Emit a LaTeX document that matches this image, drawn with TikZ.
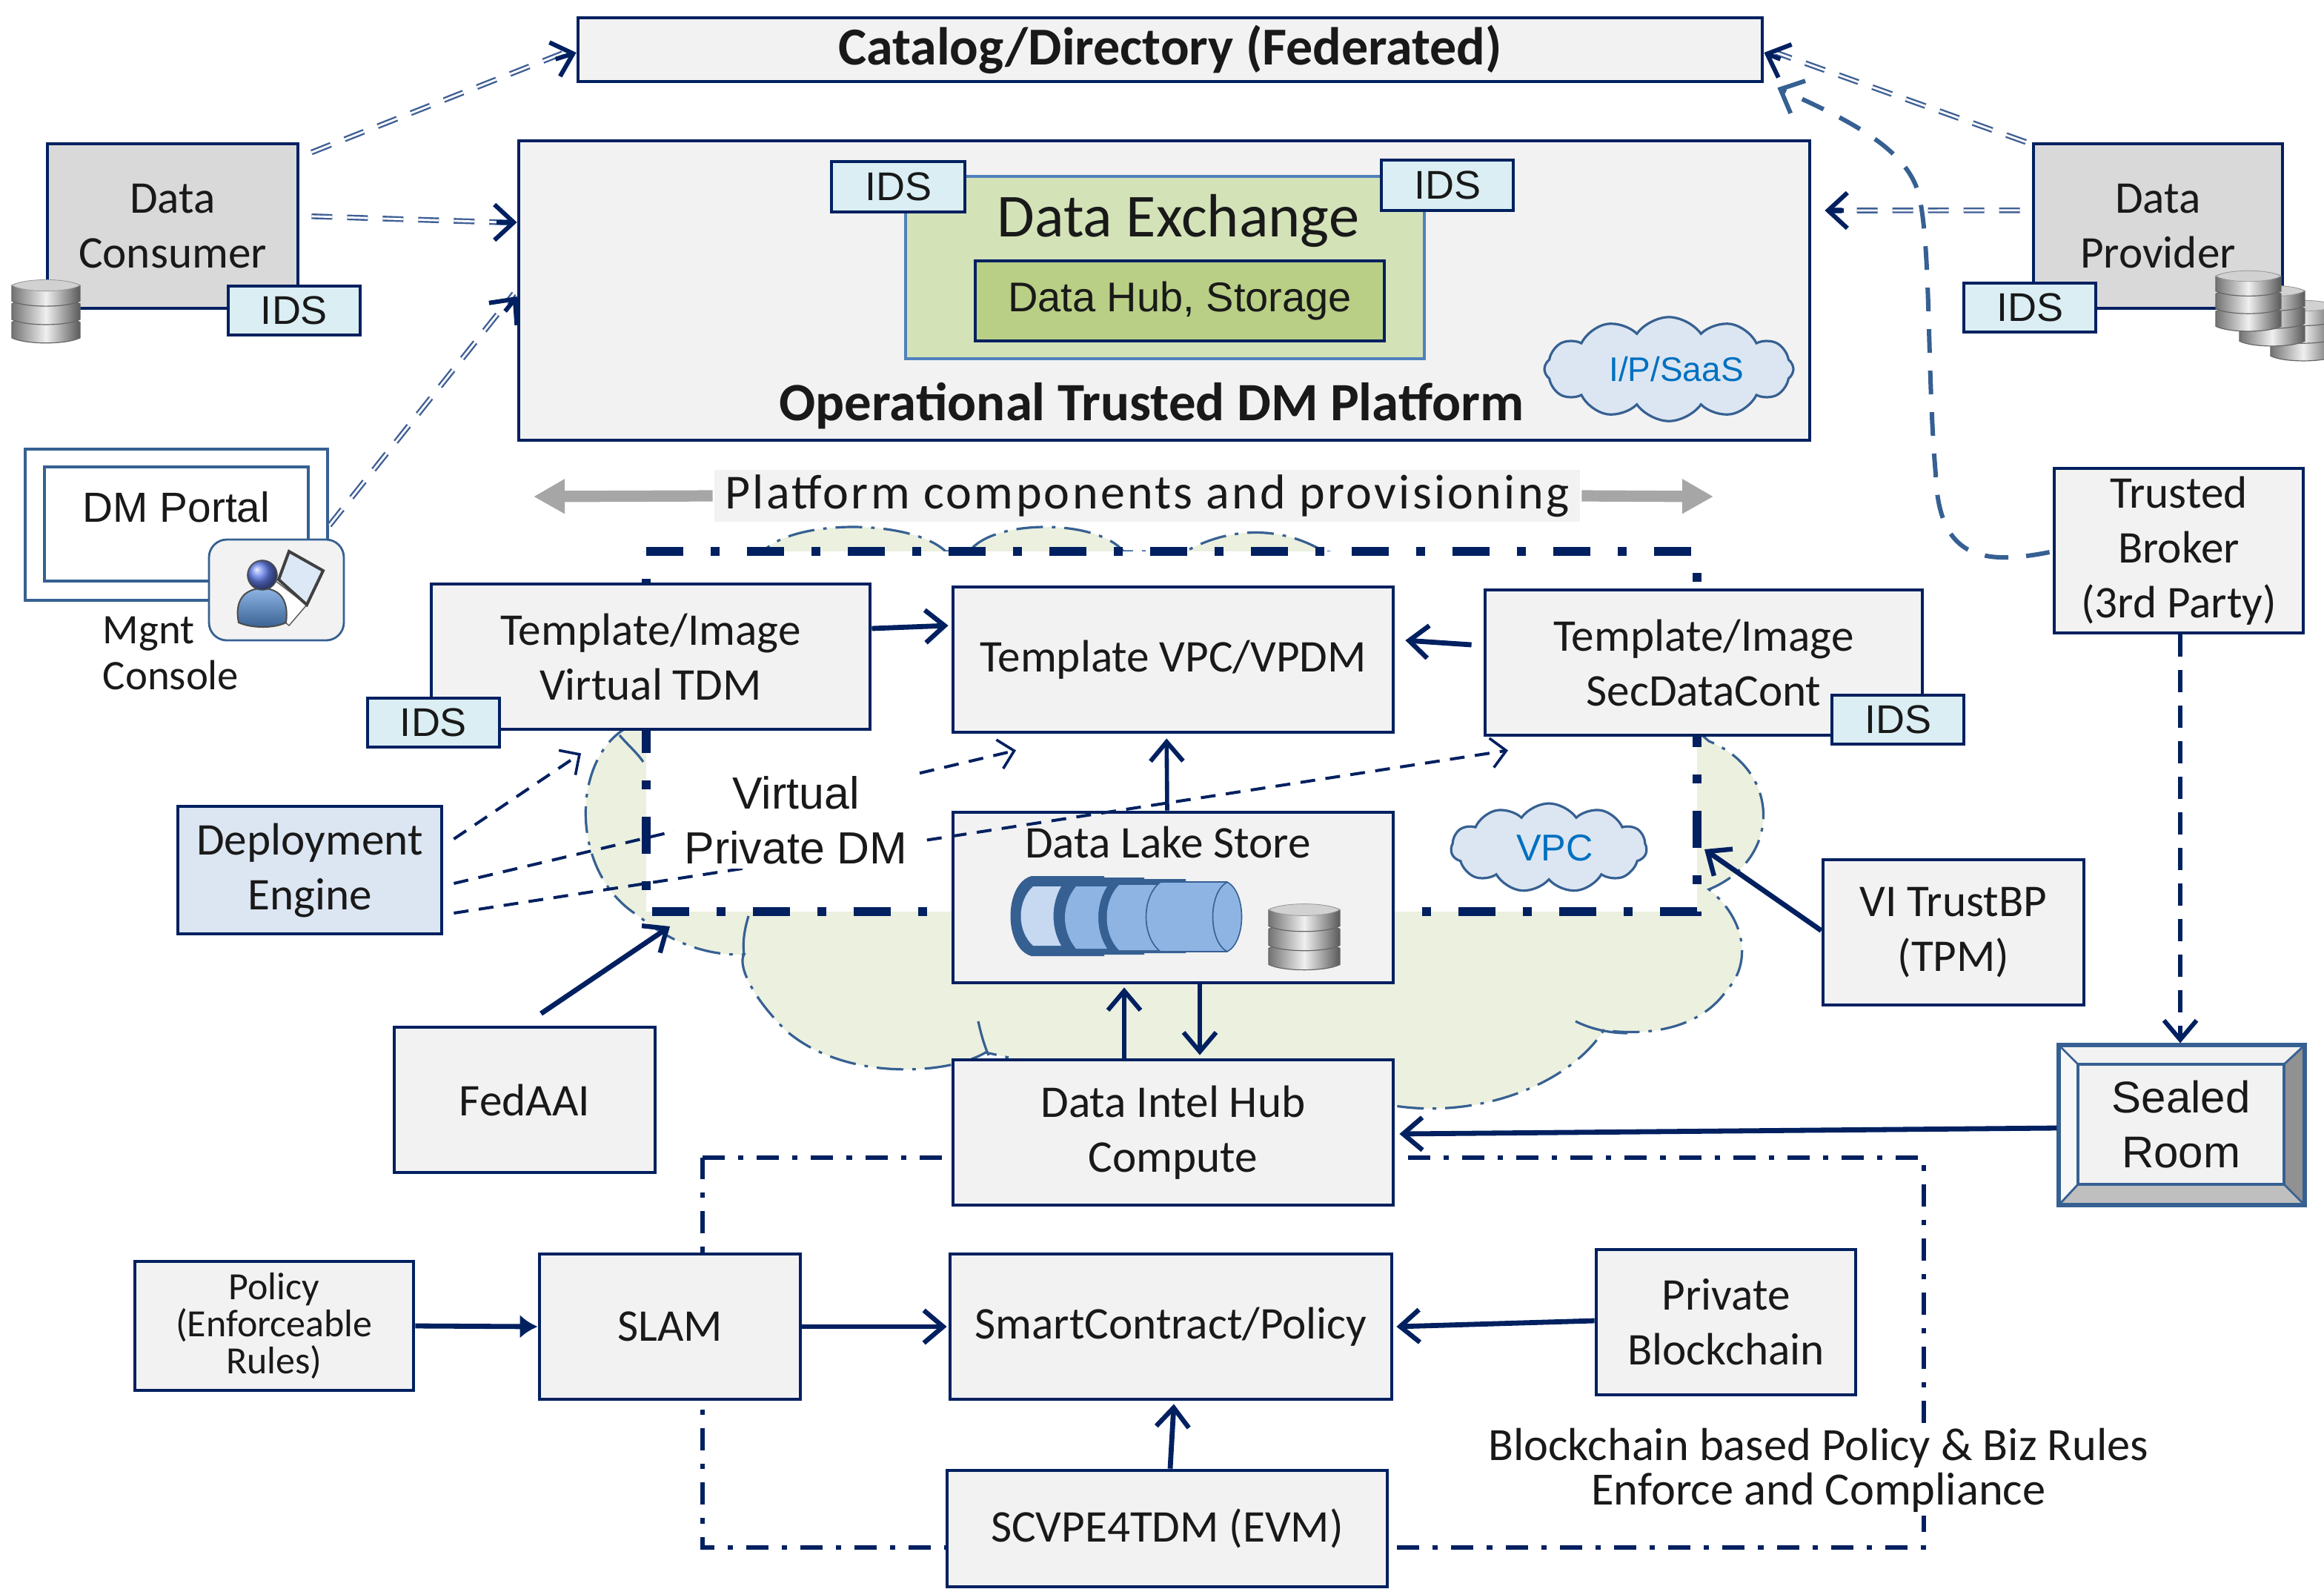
\documentclass[tikz,border=0pt]{standalone}
\usepackage{fontspec}
\setmainfont{Carlito}
\newfontfamily\arf{Liberation Sans}
\usetikzlibrary{arrows.meta,shapes.symbols,shapes.geometric}
\definecolor{navy}{HTML}{002060}
\definecolor{steel}{HTML}{366092}
\definecolor{dbl}{HTML}{3F5F95}
\definecolor{boxg}{HTML}{F2F2F2}
\definecolor{provg}{HTML}{D9D9D9}
\definecolor{idsf}{HTML}{DAEEF3}
\definecolor{cloudg}{HTML}{EBF0DF}
\definecolor{cloudb}{HTML}{DCE6F2}
\definecolor{txtb}{HTML}{0070C0}
\definecolor{exg}{HTML}{D4E2B8}
\definecolor{exb}{HTML}{4F81BD}
\definecolor{hubg}{HTML}{B9CF85}
\definecolor{barg}{HTML}{A6A6A6}
\definecolor{cylm}{HTML}{8EB4E3}
\definecolor{cyll}{HTML}{C6D9F1}
\tikzset{
  bx/.style={draw=navy,line width=1.2pt,fill=boxg,inner sep=0pt,align=center,text=black!90,
     font=\fontsize{15.3}{18.5}\selectfont},
  idsbox/.style={bx,fill=idsf,font=\arf\fontsize{13.5}{16}\selectfont},
  solidarr/.style={draw=navy,line width=1.7pt,-{Straight Barb[length=6.5pt,width=11pt,line width=1.6pt]}},
  thinarr/.style={draw=navy,line width=1.4pt,-{Straight Barb[length=6.5pt,width=11pt,line width=1.5pt]}},
  dblarr/.style={draw=dbl,line width=.6pt,double=white,double distance=.7pt,dash pattern=on 7pt off 5pt},
  dblhead/.style={draw=navy,line width=1.5pt,-{Straight Barb[length=6.5pt,width=12pt,line width=1.5pt]}},
  thindash/.style={draw=navy,line width=1pt,dash pattern=on 5pt off 3.5pt,-{Straight Barb[length=5pt,width=10pt,line width=.9pt]}},
  cloudn/.style={cloud,draw=steel,line width=.8pt,fill=cloudb,inner sep=0pt,text=txtb},
  graybar/.style={draw=barg,line width=3.8pt,-{Triangle[length=10.5pt,width=11pt]}},
  plaintxt/.style={inner sep=0pt,align=center,text=black!90,font=\fontsize{15.3}{18.5}\selectfont},
}
\newcommand{\bxn}[7][]{%
  \pgfmathsetmacro\cxx{(#3+#5)/2}\pgfmathsetmacro\cyy{(#4+#6)/2}%
  \pgfmathsetmacro\wdd{(#5-#3)*.5}\pgfmathsetmacro\htt{(#6-#4)*.5}%
  \node[bx,#1,minimum width=\wdd pt,minimum height=\htt pt] (#2) at (\cxx,\cyy) {#7};}
\newcommand{\dbicon}[3]{%
  \begin{scope}[shift={(#1,#2)},xscale=#3,yscale=#3]
    \foreach \yt in {.16,-.11,-.38}{
      \path[left color=black!55,right color=black!65,middle color=black!6,draw=black!60,line width=.3pt]
        (-.5,\yt) -- (-.5,\yt+.23) .. controls (-.3,\yt+.33) and (.3,\yt+.33) .. (.5,\yt+.23)
        -- (.5,\yt) .. controls (.3,\yt-.1) and (-.3,\yt-.1) .. (-.5,\yt) -- cycle;
    }
    \path[fill=black!18,draw=black!40,line width=.2pt] (-.5,-.38) .. controls (-.3,-.49) and (.3,-.49) .. (.5,-.38)
      .. controls (.3,-.27) and (-.3,-.27) .. (-.5,-.38) -- cycle;
  \end{scope}}
\begin{document}
\begin{tikzpicture}[x=.5pt,y=-.5pt]
\useasboundingbox (0,0) rectangle (1568,1071.5);
% big cloud behind the virtual box
\draw[fill=cloudg,draw=steel,line width=.8pt,dash pattern=on 9pt off 3pt on 1.2pt off 3pt]
  (480,400) -- (515,372) .. controls (535,350) and (615,350) .. (638,372) -- (654,372)
  .. controls (670,350) and (740,350) .. (758,372) -- (800,372)
  .. controls (830,355) and (865,355) .. (893,372) -- (1130,400) -- (1130,480) -- (1153,500)
  .. controls (1202,520) and (1202,580) .. (1153,600)
  .. controls (1178,620) and (1182,650) .. (1165,668)
  .. controls (1150,690) and (1120,700) .. (1082,695)
  .. controls (1060,730) and (1000,755) .. (941,746) -- (800,740) -- (665,710)
  .. controls (640,725) and (570,730) .. (530,695)
  .. controls (505,670) and (498,650) .. (502,644)
  .. controls (470,645) and (445,630) .. (431,618)
  .. controls (385,590) and (385,515) .. (421,492) -- (440,490) -- cycle;
\draw[draw=steel,line width=.8pt] (660,689) .. controls (662,698) and (664,705) .. (667,712);
\draw[draw=steel,line width=.8pt] (1063,689) .. controls (1075,695) and (1088,697) .. (1098,697);
\draw[draw=steel,line width=.8pt] (505,618) .. controls (502,628) and (501,636) .. (502,644);
\draw[draw=steel,line width=.8pt] (418,496) .. controls (424,503) and (430,508) .. (434,514);
% virtual private box
\path[fill=white] (436,372) rectangle (1145,615);
\draw[draw=navy,line width=3pt,dash pattern=on 12.5pt off 9.3pt on 2.9pt off 9.3pt]
  (436,372) -- (1145,372) -- (1145,615) -- (436,615) -- cycle;
% compliance frame
\draw[draw=navy,line width=1.4pt,dash pattern=on 7.5pt off 4.5pt on 1.8pt off 4.5pt]
  (474,781) -- (1298,781) -- (1298,1044) -- (474,1044) -- cycle;

% top row
\bxn[font=\bfseries\fontsize{18}{21}\selectfont]{catalog}{390}{12}{1189}{55}{Catalog/Directory (Federated)}
\bxn{platform}{350}{95}{1221}{297}{}
\bxn[draw=exb,fill=exg]{exchange}{611}{119}{961}{242}{}
\node[plaintxt,font=\fontsize{20.6}{24}\selectfont] (exchangeT) at (795,149) {Data Exchange};
\bxn[fill=hubg,font=\arf\fontsize{14}{17}\selectfont]{hub}{658}{176}{934}{230}{Data Hub, Storage}
\bxn[idsbox]{idsa}{561}{109}{651}{143}{IDS}
\bxn[idsbox]{idsb}{932}{108}{1021}{142}{IDS}
\node[plaintxt,font=\bfseries\fontsize{18.2}{21}\selectfont] (platformT) at (777,274) {Operational Trusted DM Platform};
\node[cloudn,cloud puffs=12,cloud puff arc=110,aspect=2.7,minimum width=84pt,minimum height=31pt,font=\arf\fontsize{11.5}{14}\selectfont] (iaas) at (1126,249) {\hspace{5pt}I/P/SaaS};

\bxn[fill=provg]{consumer}{32}{97}{201}{208}{Data\\Consumer}
\bxn[idsbox]{idsc}{154}{193}{243}{226}{IDS}
\dbicon{31}{210}{46}
\bxn[fill=provg]{provider}{1372}{97}{1540}{208}{Data\\Provider}
\bxn[idsbox]{idsd}{1325}{191}{1414}{224}{IDS}
\begin{scope}
\clip (1480,170) rectangle (1568,250);
\dbicon{1554}{223}{44}
\dbicon{1533}{213}{44}
\dbicon{1517}{203}{44}
\end{scope}

\bxn{broker}{1386}{316}{1554}{427}{Trusted\\Broker\\(3rd Party)}

% portal
\bxn[draw=steel,fill=white]{portal}{17}{303}{221}{405}{}
\bxn[draw=steel,fill=white]{portalin}{30}{315}{208}{392}{}
\node[plaintxt,font=\arf\fontsize{14.2}{17}\selectfont] (portalT) at (119,342) {DM Portal};
\bxn[draw=steel,line width=.7pt,rounded corners=6pt]{mgmt}{141}{364}{232}{432}{}
\path[fill=white,draw=black!60,line width=.4pt] (186,392) -- (207,408) -- (195,422) -- (175,405) -- cycle;
\path[fill=cyll!60!white,draw=black!75,line width=1pt] (195,372) -- (218,385) -- (207,408) -- (188,391) -- cycle;
\path[top color=cylm,bottom color=steel,draw=black!70,line width=.5pt]
  (161,420) .. controls (158,405) and (165,397) .. (177,397) .. controls (189,397) and (195,405) .. (193,420)
  .. controls (185,424) and (170,424) .. (161,420) -- cycle;
\path[ball color=cylm!70!blue,draw=black!70,line width=.4pt] (177,388) circle[radius=10];
\node[plaintxt,anchor=north west,align=left,font=\fontsize{14.2}{15.5}\selectfont] (mgnt) at (69,415.5) {Mgnt\\Console};

% platform bar
\bxn[draw=none,font=\addfontfeatures{LetterSpace=5}\fontsize{16.5}{19}\selectfont]{bar}{482}{317}{1066}{352}{Platform components and provisioning}
\coordinate (barl) at (360,335);
\coordinate (barr) at (1156,335);
\draw[graybar] (bar.west) -- (barl);
\draw[graybar] (bar.east) -- (barr);

% templates
\bxn{vt}{291}{394}{587}{492}{Template/Image\\Virtual TDM}
\bxn[idsbox]{idse}{248}{471}{337}{504}{IDS}
\bxn{vpc}{643}{396}{940}{494}{Template VPC/VPDM}
\bxn{sec}{1002}{398}{1297}{496}{Template/Image\\SecDataCont}
\bxn[idsbox]{idsf}{1236}{469}{1325}{502}{IDS}

\bxn[fill=cloudb]{deploy}{120}{544}{298}{630}{Deployment\\Engine}
\bxn{lake}{643}{548}{940}{663}{}
\node[plaintxt] (lakeT) at (788,568) {Data Lake Store};

% data lake cylinder icon
\path[fill=steel] (696,591) -- (745,591) -- (745,645) -- (696,645) .. controls (677,640) and (677,596) .. (696,591) -- cycle;
\path[fill=cyll] (697,598) -- (716,598) .. controls (709,610) and (709,626) .. (716,638) -- (697,638) .. controls (686,628) and (686,608) .. (697,598) -- cycle;
\path[fill=steel] (725,592) -- (772,592) -- (772,644) -- (725,644) .. controls (710,632) and (710,604) .. (725,592) -- cycle;
\path[fill=cylm] (726,598) -- (747,598) .. controls (739,610) and (739,628) .. (747,640) -- (726,640) .. controls (716,628) and (716,610) .. (726,598) -- cycle;
\path[fill=steel] (755,593) -- (800,593) -- (800,643) -- (755,643) .. controls (739,632) and (739,604) .. (755,593) -- cycle;
\path[fill=cylm] (755,597) -- (790,597) -- (790,641) -- (755,641) .. controls (744,630) and (744,608) .. (755,597) -- cycle;
\path[fill=cylm,draw=steel,line width=.4pt] (783,595) -- (828,595) .. controls (841,602) and (841,635) .. (828,642) -- (783,642) .. controls (770,632) and (770,605) .. (783,595) -- cycle;
\path[draw=steel,line width=.4pt] (828,595) .. controls (815,602) and (815,635) .. (828,642);
\dbicon{880}{632}{48}

\node[cloudn,cloud puffs=11,cloud puff arc=110,aspect=2.1,minimum width=66pt,minimum height=30pt,font=\arf\fontsize{12.6}{15}\selectfont] (vpccloud) at (1045,572) {\hspace{4pt}VPC};
\bxn{vi}{1230}{580}{1406}{678}{VI TrustBP\\(TPM)}
\bxn{fedaai}{266}{693}{442}{791}{FedAAI}
\bxn{dih}{643}{715}{940}{813}{Data Intel Hub\\Compute}

% sealed room
\bxn[draw=steel,line width=1.3pt]{sealed}{1389}{705}{1555}{813}{}
\path[fill=white!97!black] (1389,705) -- (1402,718) -- (1402,799) -- (1389,813) -- cycle;
\path[fill=black!25] (1389,813) -- (1402,799) -- (1541,799) -- (1555,813) -- cycle;
\path[fill=black!43] (1555,705) -- (1541,718) -- (1541,799) -- (1555,813) -- cycle;
\draw[draw=steel,line width=1.3pt] (1389,705) -- (1555,705) -- (1555,813) -- (1389,813) -- cycle;
\draw[draw=steel,line width=.7pt] (1389,705) -- (1402,718) (1555,705) -- (1541,718) (1389,813) -- (1402,799) (1555,813) -- (1541,799);
\bxn[draw=steel,line width=1.1pt,font=\arf\fontsize{15}{18.5}\selectfont]{sealedT}{1402}{718}{1541}{799}{Sealed\\Room}

% bottom row
\bxn[font=\fontsize{13}{12.5}\selectfont]{policy}{91}{851}{279}{938}{Policy\\(Enforceable\\Rules)}
\bxn{slam}{364}{846}{540}{944}{SLAM}
\bxn{smart}{641}{846}{939}{944}{SmartContract/Policy}
\bxn{chain}{1077}{843}{1252}{941}{Private\\Blockchain}
\bxn{scvpe}{639}{992}{936}{1070.5}{SCVPE4TDM (EVM)}
\node[plaintxt,fill=white,inner ysep=1pt,inner xsep=0pt,font=\fontsize{15.6}{15}\selectfont] (rules) at (1227,992) {Blockchain based Policy \& Biz Rules\\Enforce and Compliance};

% double dashed connectors
\draw[dblarr] ([xshift=4pt,yshift=-3.5pt]consumer.north east) -- ([xshift=-2pt,yshift=-.2pt]catalog.west);
\draw[dblhead] ([xshift=-7pt,yshift=-3.2pt]catalog.west) -- ([yshift=-1pt]catalog.west);
\draw[dblarr] ([xshift=4pt,yshift=3.3pt]consumer.east) -- ([xshift=-2pt,yshift=22.9pt]platform.west);
\draw[dblhead] ([xshift=-7pt,yshift=23pt]platform.west) -- ([yshift=23pt]platform.west);
\draw[dblarr] ([yshift=0pt]portal.east) ++(0,.5) -- ([xshift=-1pt,yshift=-1pt]platform.west);
\draw[dblhead] ([xshift=-4pt,yshift=-7pt]platform.west) -- ([yshift=-2pt]platform.west);
\draw[dblarr] ([xshift=-2pt]provider.north west) -- ([xshift=4pt,yshift=-1pt]catalog.east);
\draw[dblhead] ([xshift=5.5pt,yshift=-3.2pt]catalog.east) -- ([xshift=0pt,yshift=-1pt]catalog.east);
\draw[dblarr] ([xshift=-4pt,yshift=5.3pt]provider.west) -- ([xshift=7pt,yshift=27pt]platform.east);
\draw[dblhead] ([xshift=11pt,yshift=27pt]platform.east) -- ([xshift=4.5pt,yshift=27pt]platform.east);

% broker curve
\draw[draw=steel,line width=1.5pt,dash pattern=on 8pt off 6pt,-{Straight Barb[length=6.5pt,width=12pt,line width=1.5pt]}]
  ([xshift=-1pt,yshift=-.5pt]broker.west) .. controls (1335,382) and (1308,375) .. (1306,320)
  .. controls (1300,250) and (1303,170) .. (1295,133) .. controls (1288,100) and (1245,80) .. ([xshift=4.5pt,yshift=-1.5pt]catalog.south east);

% solid connectors
\draw[solidarr] ([yshift=9.5pt]vt.east) -- ([xshift=-1pt,yshift=11.5pt]vpc.west);
\draw[solidarr] ([xshift=-4pt,yshift=6pt]sec.west) -- ([xshift=3.5pt,yshift=6.5pt]vpc.east);
\draw[thinarr] ([xshift=-2pt]lake.north) -- ([xshift=-2.2pt,yshift=-1.5pt]vpc.south);
\draw[thinarr] ([xshift=-16.5pt]dih.north) -- ([xshift=-16.5pt,yshift=-1pt]lake.south);
\draw[thinarr] ([xshift=9pt]lake.south) -- ([xshift=9pt,yshift=1pt]dih.north);
\coordinate (fedtip) at (452,625);
\draw[solidarr] ([xshift=5.5pt,yshift=4pt]fedaai.north) -- (fedtip);
\coordinate (vitip) at (1150,573);
\draw[solidarr] ([yshift=-.5pt]vi.north west) ++(0,48) -- (vitip);
\draw[solidarr] ([yshift=-1.5pt]sealed.west) ++(0,-1) -- ([xshift=1.5pt,yshift=-.5pt]dih.east);
\draw[draw=navy,line width=1.7pt,-{Latex[length=6pt,width=8pt]}] (policy.east) -- (slam.west);
\draw[solidarr] (slam.east) -- ([xshift=-.5pt]smart.west);
\draw[solidarr] ([yshift=.5pt]chain.west) -- ([xshift=1pt]smart.east);
\draw[solidarr] ([xshift=1pt]scvpe.north) -- ([xshift=1pt,yshift=-1pt]smart.south);
\draw[draw=navy,line width=1.5pt,dash pattern=on 7.5pt off 4.5pt,-{Straight Barb[length=6.5pt,width=11pt,line width=1.5pt]}]
  (broker.south) ++(1,0) -- ([xshift=-.5pt]sealed.north);

% thin dashed from deployment engine
\draw[thindash] ([xshift=3.5pt,yshift=10.5pt]deploy.east) -- ([xshift=-23.5pt,yshift=-7.5pt]vt.south);
\draw[thindash] ([xshift=3.5pt,yshift=-4.5pt]deploy.east) -- ([xshift=-53pt,yshift=-5.5pt]vpc.south);
\draw[thindash] ([xshift=3.5pt,yshift=-14.5pt]deploy.east) -- ([xshift=-66pt,yshift=-4.5pt]sec.south);
\bxn[draw=none,fill=white,font=\arf\fontsize{15.2}{18.5}\selectfont]{vpdm}{455}{521}{619}{586}{Virtual\\Private DM}
\end{tikzpicture}
\end{document}
